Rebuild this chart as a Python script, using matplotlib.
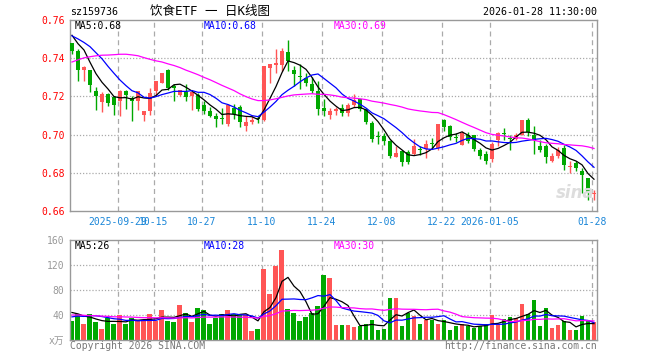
import matplotlib
matplotlib.use("Agg")
import matplotlib.pyplot as plt
import numpy as np
import pandas as pd

plt.rcParams["font.family"] = ["DejaVu Sans Mono", "Noto Sans CJK SC"]

# daily candles, 2025-09-17 .. 2026-01-28
opens = [0.748, 0.744, 0.734, 0.734, 0.723, 0.717, 0.7215, 0.7198, 0.7175, 0.7228,
         0.7193, 0.7175, 0.7102, 0.7123, 0.7226, 0.7272, 0.7338, 0.7253, 0.7205, 0.7223,
         0.7202, 0.7205, 0.7153, 0.7123, 0.710, 0.7089, 0.7053, 0.714, 0.7146, 0.7044,
         0.7065, 0.7086, 0.7075, 0.7351, 0.7363, 0.7363, 0.743, 0.7338, 0.7305, 0.7298,
         0.7263, 0.7228, 0.714, 0.7105, 0.7123, 0.714, 0.7114, 0.7153, 0.7184, 0.7132,
         0.7061, 0.6991, 0.6991, 0.6965, 0.6883, 0.6912, 0.6907, 0.690, 0.6923, 0.6925,
         0.6956, 0.693, 0.7075, 0.7044, 0.6985, 0.6947, 0.6998, 0.700, 0.6921, 0.690,
         0.6872, 0.6974, 0.7007, 0.6979, 0.6977, 0.700, 0.7075, 0.700, 0.6942, 0.6942,
         0.686, 0.6886, 0.6932, 0.6828, 0.6851, 0.6812, 0.6772, 0.6688]
highs = [0.748, 0.745, 0.736, 0.734, 0.725, 0.7225, 0.722, 0.720, 0.7233, 0.7233,
         0.720, 0.723, 0.7126, 0.7246, 0.7281, 0.7325, 0.7346, 0.7263, 0.7235, 0.7263,
         0.7225, 0.7216, 0.7175, 0.7146, 0.7114, 0.714, 0.716, 0.7158, 0.7153, 0.7096,
         0.7105, 0.710, 0.736, 0.7368, 0.7447, 0.7451, 0.7496, 0.7359, 0.7368, 0.7321,
         0.7304, 0.7281, 0.7184, 0.714, 0.7146, 0.7158, 0.7168, 0.7211, 0.7184, 0.714,
         0.707, 0.7017, 0.7009, 0.697, 0.6939, 0.6921, 0.6918, 0.6977, 0.6939, 0.6974,
         0.6982, 0.7053, 0.7083, 0.7049, 0.7009, 0.7017, 0.7016, 0.700, 0.693, 0.6912,
         0.696, 0.7012, 0.7035, 0.700, 0.7009, 0.7075, 0.7086, 0.7044, 0.6974, 0.6953,
         0.6904, 0.6937, 0.6947, 0.686, 0.686, 0.6825, 0.6772, 0.6711]
lows = [0.742, 0.728, 0.728, 0.7223, 0.713, 0.712, 0.715, 0.7105, 0.7095, 0.7135,
        0.707, 0.7128, 0.707, 0.7105, 0.720, 0.727, 0.7235, 0.7175, 0.720, 0.7175,
        0.7128, 0.7123, 0.711, 0.7093, 0.704, 0.7053, 0.7047, 0.7083, 0.704, 0.7017,
        0.7058, 0.7062, 0.707, 0.7272, 0.7325, 0.7333, 0.7333, 0.7254, 0.724, 0.7254,
        0.7216, 0.7105, 0.7096, 0.7083, 0.7105, 0.7096, 0.7096, 0.7146, 0.7123, 0.7053,
        0.696, 0.6953, 0.6947, 0.6877, 0.6883, 0.6837, 0.6847, 0.6895, 0.6895, 0.6877,
        0.6925, 0.6921, 0.7017, 0.697, 0.696, 0.6947, 0.6958, 0.6912, 0.6872, 0.6847,
        0.6854, 0.6942, 0.697, 0.6917, 0.6974, 0.6998, 0.6991, 0.690, 0.6907, 0.6851,
        0.6858, 0.6877, 0.6816, 0.6798, 0.6807, 0.6693, 0.6658, 0.6658]
closes = [0.744, 0.734, 0.7355, 0.726, 0.720, 0.7215, 0.7165, 0.7155, 0.7228, 0.7205,
          0.7175, 0.7228, 0.7123, 0.7216, 0.7279, 0.7321, 0.7246, 0.7242, 0.7233, 0.7196,
          0.7223, 0.7135, 0.7123, 0.710, 0.7084, 0.7084, 0.7153, 0.711, 0.7065, 0.7065,
          0.7075, 0.708, 0.7359, 0.7368, 0.7377, 0.7438, 0.7386, 0.7316, 0.730, 0.7268,
          0.7228, 0.7135, 0.7123, 0.7123, 0.7135, 0.7114, 0.7153, 0.7181, 0.7132, 0.7065,
          0.6977, 0.6986, 0.6965, 0.689, 0.6904, 0.6854, 0.6859, 0.6942, 0.6919, 0.6953,
          0.6951, 0.7053, 0.704, 0.6988, 0.6981, 0.7009, 0.6968, 0.6925, 0.689, 0.686,
          0.6953, 0.7009, 0.7002, 0.6975, 0.700, 0.7075, 0.7012, 0.6974, 0.6921, 0.6883,
          0.6889, 0.6921, 0.6842, 0.6832, 0.6825, 0.6789, 0.6693, 0.6693]
# 万
volumes = [31, 41, 26, 41, 29, 18, 35, 26, 40, 26,
           35, 31, 31, 42, 31, 48, 31, 29, 56, 44,
           29, 52, 48, 26, 35, 41, 48, 41, 40, 40,
           14, 18, 114, 74, 119, 144, 50, 44, 31, 37,
           44, 54, 104, 100, 24, 24, 24, 21, 22, 26,
           32, 16, 18, 68, 68, 22, 43, 39, 26, 32,
           32, 26, 32, 16, 22, 26, 22, 19, 22, 26,
           40, 26, 34, 37, 35, 57, 42, 64, 22, 52,
           19, 24, 30, 16, 16, 38, 32, 29]

# earlier sessions, only needed to seed the moving averages
prev_closes = [0.700, 0.704, 0.708, 0.706, 0.712, 0.714, 0.710, 0.716, 0.720,
               0.728, 0.736, 0.742, 0.748, 0.752,
               0.750, 0.754, 0.750, 0.756, 0.760, 0.757,
               0.750, 0.754, 0.748, 0.752, 0.753,
               0.756, 0.752, 0.758, 0.750]
prev_volumes = [38, 45, 52, 40, 36, 44, 48, 39, 35, 42, 47, 41, 38, 44, 40, 36, 45, 42, 39, 39,
                28, 32, 26, 34, 30, 52, 44, 48, 45]

tick_idx = [8, 14, 22, 32, 42, 52, 62, 70, 87]
tick_labels = ["2025-09-29", "10-15", "10-27", "11-10", "11-24", "12-08",
               "12-22", "2026-01-05", "01-28"]
price_ticks = [0.66, 0.68, 0.70, 0.72, 0.74, 0.76]
vol_ticks = [0, 40, 80, 120, 160]
vol_tick_labels = ["x万", "40", "80", "120", "160"]

UP = "#ff5555"
DOWN = "#00a800"
GRID = "#aaaaaa"
FRAME = "#999999"
MA_COLORS = {5: "black", 10: "#0000ff", 30: "#ff00ff"}


def moving_avg(prev, vals, w):
    s = pd.Series(list(prev) + list(vals), dtype=float)
    return s.rolling(w).mean().to_numpy()[-len(vals):]


def px(x, y):
    return x / 660, 1 - y / 360


O = np.array(opens)
H = np.array(highs)
L = np.array(lows)
C = np.array(closes)
V = np.array(volumes, dtype=float)
n = len(C)
x = np.arange(n)
colors = np.where(C >= O, UP, DOWN)
tick_pos = np.array(tick_idx) - 0.33

fig = plt.figure(figsize=(6.6, 3.6), dpi=100)
ax = fig.add_axes([70 / 660, 1 - 211 / 360, 527 / 660, 191 / 360])
axv = fig.add_axes([70 / 660, 1 - 340 / 360, 527 / 660, 100 / 360])

for a in (ax, axv):
    a.set_xlim(-0.33, n - 0.5)
    for s in a.spines.values():
        s.set_color(FRAME)
        s.set_linewidth(1)
    for t in tick_pos:
        a.axvline(t, color=GRID, lw=0.9, dashes=(4, 3), zorder=0)

# price panel
for p in price_ticks[1:-1]:
    ax.axhline(p, color=GRID, lw=0.9, ls=(0, (1, 1.5)), zorder=0)
ax.vlines(x, L, H, colors=colors, lw=1, zorder=2)
body = np.maximum(np.abs(C - O), 0.0005)
ax.bar(x, body, 0.67, bottom=np.minimum(O, C), color=colors, linewidth=0, zorder=3)

ma_vals = {}
for w in (5, 10, 30):
    m = moving_avg(prev_closes, C, w)
    ma_vals[w] = m[-1]
    ax.plot(x, m, color=MA_COLORS[w], lw=0.9, zorder=4)

ax.set_ylim(0.66, 0.76)
ax.set_yticks(price_ticks)
ax.set_yticklabels([f"{p:.2f}" for p in price_ticks], color="#ff0000", fontsize=7)
ax.set_xticks(tick_pos)
ax.set_xticklabels(tick_labels, color="#1a86d8", fontsize=7)
ax.tick_params(length=0, pad=4)

# volume panel
for v in vol_ticks[1:-1]:
    axv.axhline(v, color=GRID, lw=0.9, ls=(0, (1, 1.5)), zorder=0)
axv.bar(x, V, 0.83, color=colors, linewidth=0, zorder=2)
vma_vals = {}
for w in (5, 10, 30):
    m = moving_avg(prev_volumes, V, w)
    vma_vals[w] = m[-1]
    axv.plot(x, m, color=MA_COLORS[w], lw=0.9, zorder=4)
axv.set_ylim(0, 160)
axv.set_yticks(vol_ticks)
axv.set_yticklabels(vol_tick_labels, color="#999999", fontsize=7)
axv.set_xticks(tick_pos)
axv.set_xticklabels([])
axv.tick_params(length=0, pad=4)

# header texts
fig.text(*px(70, 12), "sz159736", fontsize=7.2, va="center", ha="left")
fig.text(*px(210, 12), "饮食ETF 一 日K线图", fontsize=9, va="center", ha="center")
fig.text(*px(597, 12), "2026-01-28 11:30:00", fontsize=7.2, va="center", ha="right")

for w, xp in ((5, 75), (10, 204), (30, 334)):
    fig.text(*px(xp, 26), f"MA{w}:{ma_vals[w]:.2f}", fontsize=7, color=MA_COLORS[w],
             va="center", ha="left")
    fig.text(*px(xp, 246), f"MA{w}:{vma_vals[w]:.0f}", fontsize=7, color=MA_COLORS[w],
             va="center", ha="left")

fig.text(*px(575, 193), "sina", fontsize=12, color="#dddddd", style="italic",
         fontweight="bold", va="center", ha="center", family="DejaVu Sans", zorder=0)
fig.text(*px(70, 346), "Copyright 2026 SINA.COM", fontsize=7, color="#777777",
         va="center", ha="left")
fig.text(*px(597, 346), "http://finance.sina.com.cn", fontsize=7, color="#777777",
         va="center", ha="right")

fig.savefig("out.png", dpi=100)
